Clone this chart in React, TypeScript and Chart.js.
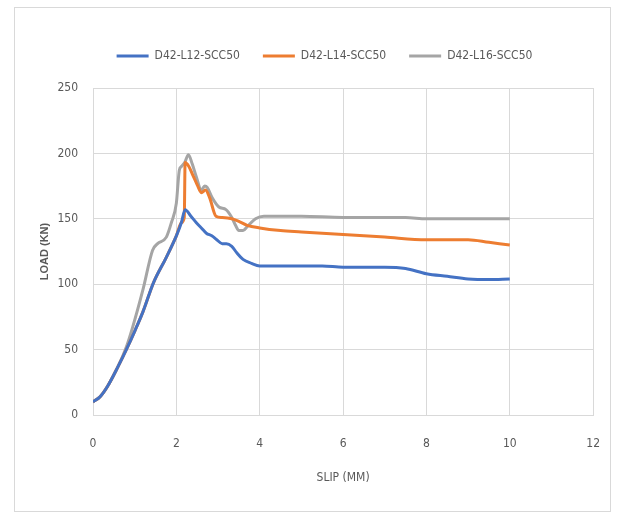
import React, { useEffect, useRef } from "react";
import { Chart, registerables } from "chart.js";

Chart.register(...registerables);

const seriesLabels = ["D42-L12-SCC50", "D42-L14-SCC50", "D42-L16-SCC50"];

const blueX = [0, 0.17, 0.35, 0.6, 0.8, 1.0, 1.2, 1.45, 1.75, 2.0, 2.12, 2.21, 2.35, 2.48, 2.6, 2.72, 2.85, 2.97, 3.1, 3.2, 3.33, 3.45, 3.6, 3.8, 4.0, 4.5, 5.0, 5.5, 6.0, 6.5, 7.0, 7.5, 8.0, 8.5, 9.0, 9.5, 10.0];
const blueY = [10, 14, 22, 37, 50, 64, 79, 101, 120, 137, 147, 157, 152, 147, 143, 139, 137, 134, 131, 131, 129, 124, 119, 116, 114, 114, 114, 114, 113, 113, 113, 112, 108, 106, 104, 103.5, 104];

const orangeX = [0, 0.17, 0.35, 0.6, 0.8, 1.0, 1.2, 1.45, 1.75, 2.0, 2.12, 2.19, 2.21, 2.3, 2.4, 2.5, 2.6, 2.7, 2.8, 2.95, 3.1, 3.33, 3.5, 3.7, 4.0, 4.5, 5.0, 6.0, 7.0, 8.0, 8.5, 9.0, 9.5, 10.0];
const orangeY = [10, 14, 22, 37, 50, 64, 79, 101, 120, 137, 147, 151, 193, 190, 183, 176, 170, 172, 166, 152, 151, 150, 148, 145, 143, 141, 140, 138, 136, 134, 134, 134, 132, 130];

const grayX = [0, 0.17, 0.35, 0.6, 0.8, 0.95, 1.2, 1.43, 1.55, 1.76, 1.88, 2.0, 2.07, 2.12, 2.2, 2.29, 2.38, 2.48, 2.6, 2.68, 2.74, 2.86, 3.02, 3.19, 3.33, 3.42, 3.5, 3.6, 3.7, 3.9, 4.1, 4.5, 5.0, 6.0, 7.0, 7.5, 8.0, 9.0, 10.0];
const grayY = [10, 14, 22, 37, 52, 67, 96, 126, 131, 136, 147, 162, 187, 190, 193, 199, 192, 182, 172, 175, 174, 166, 159, 157, 151, 145, 141, 141, 144, 150, 152, 152, 152, 151, 151, 151, 150, 150, 150];

const seriesColors = ["#4472C4", "#ED7D31", "#A5A5A5"];

const xTitle = "SLIP (MM)";
const yTitle = "LOAD (KN)";

const FONT = "'Liberation Sans Narrow', 'DejaVu Sans Condensed', 'Liberation Sans', sans-serif";
const TEXT = "#595959";
const GRID = "#d9d9d9";

function toPoints(xs: number[], ys: number[]) {
  return xs.map((x, i) => ({ x, y: ys[i] }));
}

export default function App() {
  const ref = useRef<HTMLCanvasElement | null>(null);

  useEffect(() => {
    if (!ref.current) return;
    const legendGap = {
      id: "legendGap",
      beforeLayout(chart: any) {
        const lg = chart.legend;
        if (lg && !lg.__patched) {
          const orig = lg.fit;
          lg.fit = function () {
            orig.call(this);
            this.height += 16;
          };
          lg.__patched = true;
        }
      },
    };
    const xs = [blueX, orangeX, grayX];
    const ys = [blueY, orangeY, grayY];
    const chart = new Chart(ref.current, {
      type: "scatter",
      data: {
        datasets: seriesLabels.map((label, i) => ({
          label,
          data: toPoints(xs[i], ys[i]),
          showLine: true,
          borderColor: seriesColors[i],
          backgroundColor: seriesColors[i],
          borderWidth: 3,
          pointRadius: 0,
          pointHoverRadius: 0,
          cubicInterpolationMode: "monotone" as const,
          pointStyle: "line",
        })),
      },
      plugins: [legendGap],
      options: {
        responsive: false,
        animation: false,
        layout: { padding: { top: 27, left: 52, right: 25, bottom: 20 } },
        plugins: {
          tooltip: { enabled: false },
          legend: {
            position: "top",
            labels: {
              usePointStyle: true,
              pointStyle: "line",
              pointStyleWidth: 32,
              boxWidth: 32,
              padding: 23,
              color: TEXT,
              font: { family: FONT, size: 12 },
            },
          },
        },
        scales: {
          x: {
            type: "linear",
            min: 0,
            max: 12,
            ticks: { stepSize: 2, color: TEXT, padding: 22, font: { family: FONT, size: 12 } },
            grid: { color: GRID, drawTicks: false },
            border: { color: GRID },
            title: {
              display: true,
              text: xTitle,
              color: TEXT,
              font: { family: FONT, size: 12 },
              padding: { top: 0, bottom: 7 },
            },
            afterFit: (s: any) => {
              s.height = 77;
            },
          },
          y: {
            min: 0,
            max: 250,
            ticks: { stepSize: 50, color: TEXT, padding: 15, font: { family: FONT, size: 12 } },
            grid: { color: GRID, drawTicks: false },
            border: { color: GRID },
            title: {
              display: true,
              text: yTitle,
              color: TEXT,
              font: { family: "'Liberation Sans', sans-serif", size: 11, weight: "bold" },
              padding: { top: -14, bottom: 0 },
            },
            afterFit: (s: any) => {
              s.width = 41;
            },
          },
        },
      },
    });
    return () => chart.destroy();
  }, []);

  return (
    <div style={{ position: "fixed", left: 0, top: 0, width: 622, height: 512, background: "#fff" }}>
      <div
        style={{
          position: "absolute",
          left: 14,
          top: 7,
          width: 595,
          height: 503,
          border: "1px solid #d9d9d9",
        }}
      />
      <canvas ref={ref} width={622} height={512} style={{ position: "absolute", left: 0, top: 0 }} />
    </div>
  );
}
